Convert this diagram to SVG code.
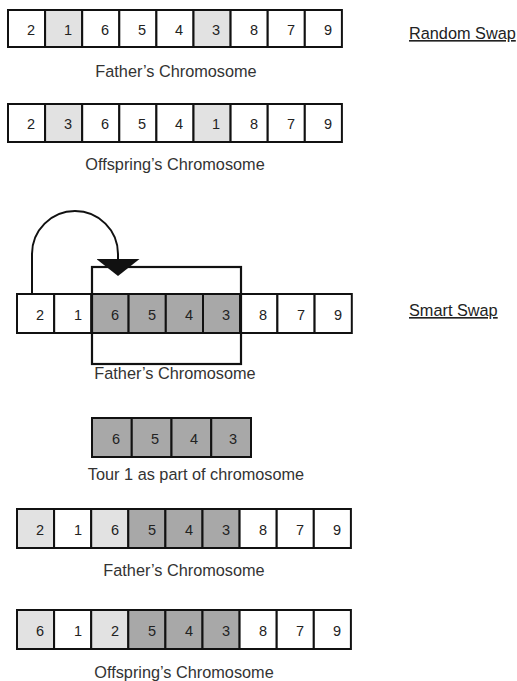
<svg xmlns="http://www.w3.org/2000/svg" width="517" height="681" viewBox="0 0 517 681">
  <style>
    .cell { fill: #ffffff; stroke: #111111; stroke-width: 2; }
    .lt { fill: #e2e2e2; }
    .dk { fill: #a8a8a8; }
    .num { font-family: "Liberation Sans", Arial, sans-serif; font-size: 14.5px; fill: #222222; text-anchor: middle; }
    .cap { font-family: "Liberation Sans", Arial, sans-serif; font-size: 16.3px; fill: #333333; text-anchor: middle; }
    .title { font-family: "Liberation Sans", Arial, sans-serif; font-size: 16.3px; fill: #222222; text-decoration: underline; }
    .wire { fill: none; stroke: #111111; stroke-width: 2; }
    .box { fill: none; stroke: #111111; stroke-width: 2.2; }
  </style>
  <defs>
    <marker id="head" viewBox="0 0 17 43" markerWidth="17" markerHeight="43" refX="16" refY="21.5" orient="auto" markerUnits="userSpaceOnUse">
      <polygon points="0,0 17,21.5 0,43" fill="#111111"/>
    </marker>
  </defs>
  <rect width="517" height="681" fill="#ffffff"/>

  <!-- Section headings -->
  <text class="title" x="409" y="39">Random Swap</text>
  <text class="title" x="409" y="316">Smart Swap</text>

  <!-- Random swap: father -->
  <g id="random-father">
    <rect class="cell" x="8" y="10" width="37.1" height="37"/>
    <rect class="cell lt" x="45.1" y="10" width="37.1" height="37"/>
    <rect class="cell" x="82.2" y="10" width="37.1" height="37"/>
    <rect class="cell" x="119.3" y="10" width="37.1" height="37"/>
    <rect class="cell" x="156.4" y="10" width="37.1" height="37"/>
    <rect class="cell lt" x="193.5" y="10" width="37.1" height="37"/>
    <rect class="cell" x="230.6" y="10" width="37.1" height="37"/>
    <rect class="cell" x="267.7" y="10" width="37.1" height="37"/>
    <rect class="cell" x="304.8" y="10" width="37.1" height="37"/>
    <text class="num" x="31" y="35">2</text>
    <text class="num" x="68" y="35">1</text>
    <text class="num" x="105" y="35">6</text>
    <text class="num" x="142" y="35">5</text>
    <text class="num" x="179" y="35">4</text>
    <text class="num" x="216" y="35">3</text>
    <text class="num" x="254" y="35">8</text>
    <text class="num" x="291" y="35">7</text>
    <text class="num" x="328" y="35">9</text>
    <text class="cap" x="176" y="77">Father’s Chromosome</text>
  </g>

  <!-- Random swap: offspring -->
  <g id="random-offspring">
    <rect class="cell" x="8" y="104" width="37.1" height="38"/>
    <rect class="cell lt" x="45.1" y="104" width="37.1" height="38"/>
    <rect class="cell" x="82.2" y="104" width="37.1" height="38"/>
    <rect class="cell" x="119.3" y="104" width="37.1" height="38"/>
    <rect class="cell" x="156.4" y="104" width="37.1" height="38"/>
    <rect class="cell lt" x="193.5" y="104" width="37.1" height="38"/>
    <rect class="cell" x="230.6" y="104" width="37.1" height="38"/>
    <rect class="cell" x="267.7" y="104" width="37.1" height="38"/>
    <rect class="cell" x="304.8" y="104" width="37.1" height="38"/>
    <text class="num" x="31" y="129">2</text>
    <text class="num" x="68" y="129">3</text>
    <text class="num" x="105" y="129">6</text>
    <text class="num" x="142" y="129">5</text>
    <text class="num" x="179" y="129">4</text>
    <text class="num" x="216" y="129">1</text>
    <text class="num" x="254" y="129">8</text>
    <text class="num" x="291" y="129">7</text>
    <text class="num" x="328" y="129">9</text>
    <text class="cap" x="175" y="170">Offspring’s Chromosome</text>
  </g>

  <!-- Smart swap: father with tour window -->
  <g id="smart-father">
    <rect class="cell" x="17" y="294" width="37.2" height="39"/>
    <rect class="cell" x="54.2" y="294" width="37.2" height="39"/>
    <rect class="cell dk" x="91.4" y="294" width="37.2" height="39"/>
    <rect class="cell dk" x="128.6" y="294" width="37.2" height="39"/>
    <rect class="cell dk" x="165.8" y="294" width="37.2" height="39"/>
    <rect class="cell dk" x="203" y="294" width="37.2" height="39"/>
    <rect class="cell" x="240.2" y="294" width="37.2" height="39"/>
    <rect class="cell" x="277.4" y="294" width="37.2" height="39"/>
    <rect class="cell" x="314.6" y="294" width="37.2" height="39"/>
    <text class="num" x="40" y="320">2</text>
    <text class="num" x="78" y="320">1</text>
    <text class="num" x="115" y="320">6</text>
    <text class="num" x="152" y="320">5</text>
    <text class="num" x="189" y="320">4</text>
    <text class="num" x="226" y="320">3</text>
    <text class="num" x="263" y="320">8</text>
    <text class="num" x="301" y="320">7</text>
    <text class="num" x="338" y="320">9</text>
  </g>
  <g id="tour-window">
    <rect class="box" x="92" y="267" width="149" height="97"/>
    <text class="cap" x="175" y="379">Father’s Chromosome</text>
  </g>

  <!-- Extracted tour -->
  <g id="tour">
    <rect class="cell dk" x="92" y="418" width="39.75" height="39"/>
    <rect class="cell dk" x="131.75" y="418" width="39.75" height="39"/>
    <rect class="cell dk" x="171.5" y="418" width="39.75" height="39"/>
    <rect class="cell dk" x="211.25" y="418" width="39.75" height="39"/>
    <text class="num" x="116" y="444">6</text>
    <text class="num" x="155" y="444">5</text>
    <text class="num" x="194" y="444">4</text>
    <text class="num" x="233" y="444">3</text>
    <text class="cap" x="196" y="480">Tour 1 as part of chromosome</text>
  </g>

  <!-- Smart swap: father after tour -->
  <g id="smart-father-2">
    <rect class="cell lt" x="17" y="509" width="37.1" height="39"/>
    <rect class="cell" x="54.1" y="509" width="37.1" height="39"/>
    <rect class="cell lt" x="91.2" y="509" width="37.1" height="39"/>
    <rect class="cell dk" x="128.3" y="509" width="37.1" height="39"/>
    <rect class="cell dk" x="165.4" y="509" width="37.1" height="39"/>
    <rect class="cell dk" x="202.5" y="509" width="37.1" height="39"/>
    <rect class="cell" x="239.6" y="509" width="37.1" height="39"/>
    <rect class="cell" x="276.7" y="509" width="37.1" height="39"/>
    <rect class="cell" x="313.8" y="509" width="37.1" height="39"/>
    <text class="num" x="40" y="535">2</text>
    <text class="num" x="78" y="535">1</text>
    <text class="num" x="115" y="535">6</text>
    <text class="num" x="152" y="535">5</text>
    <text class="num" x="189" y="535">4</text>
    <text class="num" x="226" y="535">3</text>
    <text class="num" x="263" y="535">8</text>
    <text class="num" x="300" y="535">7</text>
    <text class="num" x="337" y="535">9</text>
    <text class="cap" x="184" y="576">Father’s Chromosome</text>
  </g>

  <!-- Smart swap: offspring -->
  <g id="smart-offspring">
    <rect class="cell lt" x="17" y="610" width="37.1" height="39"/>
    <rect class="cell" x="54.1" y="610" width="37.1" height="39"/>
    <rect class="cell lt" x="91.2" y="610" width="37.1" height="39"/>
    <rect class="cell dk" x="128.3" y="610" width="37.1" height="39"/>
    <rect class="cell dk" x="165.4" y="610" width="37.1" height="39"/>
    <rect class="cell dk" x="202.5" y="610" width="37.1" height="39"/>
    <rect class="cell" x="239.6" y="610" width="37.1" height="39"/>
    <rect class="cell" x="276.7" y="610" width="37.1" height="39"/>
    <rect class="cell" x="313.8" y="610" width="37.1" height="39"/>
    <text class="num" x="40" y="636">6</text>
    <text class="num" x="78" y="636">1</text>
    <text class="num" x="115" y="636">2</text>
    <text class="num" x="152" y="636">5</text>
    <text class="num" x="189" y="636">4</text>
    <text class="num" x="226" y="636">3</text>
    <text class="num" x="263" y="636">8</text>
    <text class="num" x="300" y="636">7</text>
    <text class="num" x="337" y="636">9</text>
    <text class="cap" x="184" y="678">Offspring’s Chromosome</text>
  </g>

  <!-- Connectors -->
  <g id="connectors">
    <path class="wire" d="M32,294 V254 A43,43 0 0 1 118,254 V275" marker-end="url(#head)"/>
  </g>
</svg>
